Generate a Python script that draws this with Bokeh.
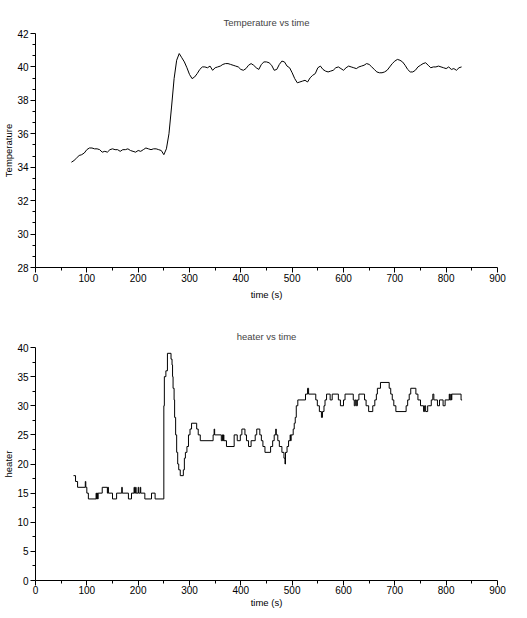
from bokeh.plotting import figure
from bokeh.layouts import column
from bokeh.models import FixedTicker, Range1d
from bokeh.embed import file_html
from bokeh.resources import INLINE

# ---- data ----
temp_t = list(range(70, 831, 5))
temp_v = [
    34.3, 34.4, 34.55, 34.7, 34.75, 34.85, 35.05, 35.15, 35.15, 35.1,
    35.1, 35.05, 34.9, 34.95, 34.9, 35.05, 35.1, 35.05, 35.05, 34.95,
    35.05, 35.05, 35.1, 35.0, 34.95, 34.9, 35.0, 34.95, 35.05, 35.15,
    35.1, 35.05, 35.1, 35.1, 35.05, 35.0, 34.75, 35.1, 36.0, 37.6,
    39.3, 40.4, 40.8, 40.55, 40.3, 39.95, 39.55, 39.3, 39.4, 39.6,
    39.85, 40.0, 40.0, 39.95, 40.05, 39.8, 39.95, 40.0, 40.05, 40.15,
    40.2, 40.2, 40.15, 40.1, 40.05, 40.0, 39.85, 39.8, 39.9, 40.1,
    40.2, 40.1, 39.95, 39.85, 40.15, 40.3, 40.3, 40.25, 40.1, 39.8,
    39.85, 40.15, 40.35, 40.3, 40.05, 39.95, 39.65, 39.3, 39.05, 39.1,
    39.15, 39.2, 39.1, 39.35, 39.5, 39.6, 39.95, 40.05, 39.85, 39.75,
    39.7, 39.75, 39.8, 39.95, 40.0, 39.9, 39.8, 39.95, 40.05, 40.0,
    39.95, 39.9, 40.0, 40.05, 40.1, 40.2, 40.15, 40.0, 39.85, 39.7,
    39.65, 39.65, 39.7, 39.8, 40.0, 40.2, 40.35, 40.45, 40.4, 40.3,
    40.1, 39.85, 39.7, 39.7, 39.8, 40.0, 40.1, 40.2, 40.25, 40.1,
    39.95, 40.0, 40.0, 40.05, 40.0, 39.95, 39.9, 40.0, 39.85, 39.9,
    39.8, 39.95, 40.0,
]

heat_t = [
    74, 78, 82, 97, 98, 100, 103, 118, 119, 120, 121, 122, 130, 140, 141, 142,
    150, 158, 168, 169, 181, 187, 192, 193, 195, 196, 200, 201, 204, 205,
    213, 226, 233, 250, 251, 254, 257, 264, 266, 267, 268, 270, 271, 273,
    275, 277, 279, 282, 288, 290, 292, 295, 298, 301, 304, 314, 317, 321,
    346, 348, 349, 362, 364, 365, 366, 367, 372, 387, 393, 399, 402, 408,
    411, 415, 420, 428, 431, 437, 440, 443, 447, 458, 462, 465, 468, 469,
    472, 475, 480, 484, 486, 487, 490, 493, 496, 497, 498, 502, 504, 506,
    508, 511, 526, 530, 532, 546, 549, 553, 557, 559, 562, 564, 567, 574,
    578, 590, 594, 600, 603, 619, 621, 623, 625, 627, 630, 641, 644, 649,
    657, 661, 664, 666, 672, 689, 692, 695, 698, 702, 722, 725, 728, 731,
    741, 745, 750, 756, 758, 760, 764, 766, 771, 774, 776, 783, 787, 794,
    798, 806, 807, 809, 810, 811, 829, 831,
]
heat_v = [
    18, 17, 16, 17, 16, 15, 14, 15, 14, 15, 14, 15, 16, 15, 16, 15,
    14, 15, 16, 15, 14, 15, 16, 15, 16, 15, 16, 15, 16, 15,
    14, 15, 14, 30, 35, 36, 39, 38, 37, 35, 33, 31, 28, 25,
    22, 20, 19, 18, 19, 21, 22, 23, 25, 26, 27, 26, 25, 24,
    25, 26, 25, 24, 25, 24, 25, 24, 23, 25, 24, 25, 26, 25,
    24, 23, 24, 25, 26, 25, 24, 23, 22, 23, 24, 25, 26, 25,
    24, 23, 22, 21, 20, 22, 23, 24, 25, 24, 25, 26, 27, 28,
    30, 31, 32, 33, 32, 31, 30, 29, 28, 29, 30, 31, 32, 31,
    32, 31, 30, 31, 32, 31, 30, 31, 30, 31, 32, 31, 30, 29,
    30, 31, 32, 33, 34, 33, 32, 31, 30, 29, 30, 31, 32, 33,
    32, 31, 30, 29, 30, 29, 30, 30, 31, 32, 31, 30, 31, 30,
    31, 32, 31, 32, 31, 32, 31, 31,
]

x_ticks = [0, 100, 200, 300, 400, 500, 600, 700, 800, 900]
x_minor = [50, 150, 250, 350, 450, 550, 650, 750, 850]
temp_ticks = [28, 30, 32, 34, 36, 38, 40, 42]
temp_minor = [28.667, 29.333, 30.667, 31.333, 32.667, 33.333, 34.667, 35.333,
              36.667, 37.333, 38.667, 39.333, 40.667, 41.333]
heat_ticks = [0, 5, 10, 15, 20, 25, 30, 35, 40]
heat_minor = [2.5, 7.5, 12.5, 17.5, 22.5, 27.5, 32.5, 37.5]

FONT = "Liberation Sans"


def style(p, ylabel):
    p.grid.visible = False
    p.outline_line_color = None
    p.title.text_font = FONT
    p.title.text_font_size = "9.5px"
    p.title.text_font_style = "normal"
    p.title.align = "center"
    p.title.offset = -6
    p.title.standoff = 12
    for ax in (p.xaxis[0], p.yaxis[0]):
        ax.axis_line_color = "black"
        ax.major_tick_line_color = "black"
        ax.minor_tick_line_color = "black"
        ax.major_tick_out = 5
        ax.major_tick_in = 0
        ax.minor_tick_out = 3
        ax.minor_tick_in = 0
        ax.major_label_text_font = FONT
        ax.major_label_text_font_size = "10px"
        ax.major_label_text_color = "black"
        ax.axis_label_text_font = FONT
        ax.axis_label_text_font_size = "9.5px"
        ax.axis_label_text_font_style = "normal"
        ax.axis_label_text_color = "black"
    p.xaxis[0].ticker = FixedTicker(ticks=x_ticks, minor_ticks=x_minor)
    p.xaxis[0].axis_label = "time (s)"
    p.xaxis[0].major_label_standoff = 1
    p.xaxis[0].axis_label_standoff = 4
    p.yaxis[0].axis_label = ylabel
    p.yaxis[0].major_label_standoff = 2
    p.yaxis[0].axis_label_standoff = 0


p1 = figure(width=511, height=318, output_backend="svg", toolbar_location=None,
            x_range=Range1d(0, 900), y_range=Range1d(28, 42),
            min_border_left=30, min_border_right=14,
            min_border_top=33, min_border_bottom=51,
            title="Temperature vs time")
style(p1, "Temperature")
p1.yaxis[0].ticker = FixedTicker(ticks=temp_ticks, minor_ticks=temp_minor)
p1.line(temp_t, temp_v, line_color="black", line_width=1)

p2 = figure(width=511, height=292, output_backend="svg", toolbar_location=None,
            x_range=Range1d(0, 900), y_range=Range1d(0, 40),
            min_border_left=30, min_border_right=14,
            min_border_top=29, min_border_bottom=30,
            title="heater vs time")
style(p2, "heater")
p2.xaxis[0].major_label_standoff = 0
p2.xaxis[0].axis_label_standoff = 0
p2.yaxis[0].ticker = FixedTicker(ticks=heat_ticks, minor_ticks=heat_minor)
p2.step(heat_t, heat_v, mode="after", line_color="black", line_width=1)

layout = column(p1, p2, spacing=0)
open("out.html", "w").write(file_html(layout, INLINE))
